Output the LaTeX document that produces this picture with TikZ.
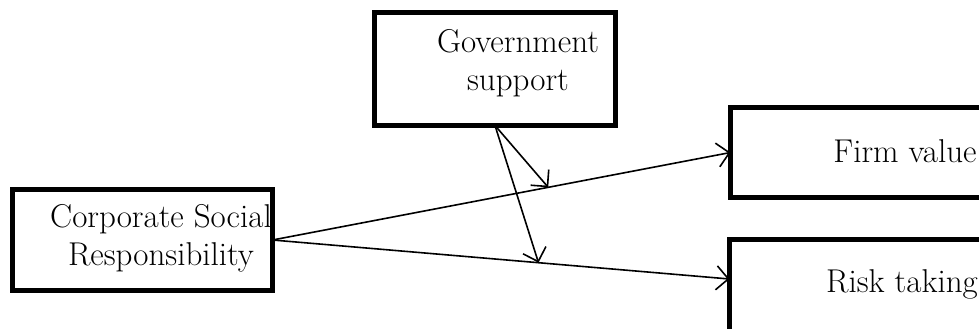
\documentclass[tikz,border=0pt]{standalone}
\usetikzlibrary{arrows.meta,calc}
\begin{document}
\begin{tikzpicture}[x=1pt,y=-1pt,
  box/.style={draw,line width=5pt,rectangle,inner sep=0pt,outer sep=0pt},
  lbl/.style={inner sep=0pt,align=center,font=\fontsize{33}{38}\selectfont},
  conn/.style={line width=1.6pt,-{Straight Barb[length=12pt,width=24pt,line width=1.6pt]}}]
\useasboundingbox (0,0) rectangle (979,329);
\begin{scope}
\clip (0,0) rectangle (979,329);
\node[box,minimum width=241pt,minimum height=113pt] (gov) at (495,69) {};
\node[box,minimum width=260pt,minimum height=101pt] (csr) at (142.5,240) {};
\node[box,minimum width=260pt,minimum height=90pt] (firm) at (860.5,152.5) {};
\node[box,minimum width=260pt,minimum height=92pt] (risk) at (859.5,285.5) {};
\end{scope}
\node[lbl,anchor=base] (govt) at (518,90) {Government\\support};
\node[lbl,anchor=base] (csrt) at (161,265) {Corporate Social\\Responsibility};
\node[lbl,anchor=base] (firmt) at (905,162) {Firm value};
\node[lbl,anchor=base] (riskt) at (902,292) {Risk taking};
\coordinate (rt) at (729.5,279);
\coordinate (csrs) at (272.5,240);
\draw[conn] (csrs) -- (firm.west);
\draw[conn] (csrs) -- (rt);
\coordinate (m1) at ($(csrs)!0.602!(firm.west)$);
\coordinate (m2) at ($(csrs)!0.582!(rt)$);
\draw[conn] (gov.south) -- (m1);
\draw[conn] (gov.south) -- (m2);
\end{tikzpicture}
\end{document}
